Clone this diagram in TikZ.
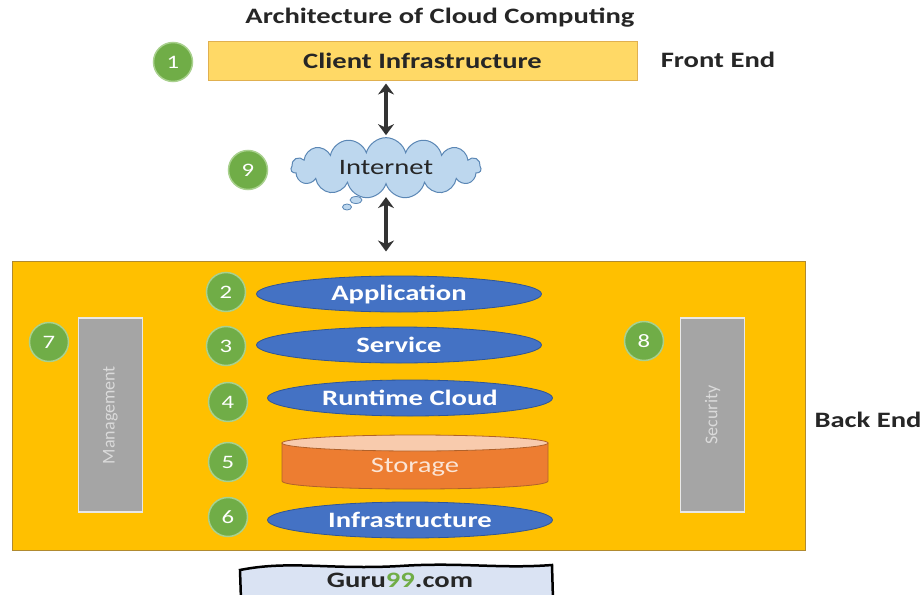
\documentclass[tikz,border=0pt]{standalone}
\usepackage{fontspec}
\setmainfont{Carlito}[FakeStretch=1.3]
\newfontfamily\barfont{Carlito}
\usetikzlibrary{shapes.geometric,shapes.symbols,arrows.meta}
\definecolor{clientfill}{HTML}{FFD966}
\definecolor{clientdraw}{HTML}{E0B050}
\definecolor{backfill}{HTML}{FFC000}
\definecolor{backdraw}{HTML}{B08A30}
\definecolor{numgreen}{HTML}{70AD47}
\definecolor{numedge}{HTML}{A9D18E}
\definecolor{ellblue}{HTML}{4472C4}
\definecolor{elledge}{HTML}{2F5597}
\definecolor{bargrey}{HTML}{A5A5A5}
\definecolor{baredge}{HTML}{E8E8E8}
\definecolor{bartext}{HTML}{DADADA}
\definecolor{storbody}{HTML}{ED7D31}
\definecolor{stortop}{HTML}{F8CBAD}
\definecolor{storedge}{HTML}{B0612A}
\definecolor{stortext}{HTML}{FBE5D6}
\definecolor{cloudfill}{HTML}{BDD7EE}
\definecolor{cloudedge}{HTML}{5B87B5}
\definecolor{gurufill}{HTML}{DAE3F3}
\definecolor{guru99}{HTML}{70AD47}
\definecolor{arrowgrey}{HTML}{333333}
\definecolor{txt}{HTML}{262626}
\tikzset{
  numdot/.style={circle, fill=numgreen, draw=numedge, line width=1.5pt, minimum size=39pt, inner sep=0pt, text=white, font=\fontsize{19}{22}\selectfont},
  blueell/.style={ellipse, fill=ellblue, draw=elledge, line width=0.8pt, minimum width=285pt, minimum height=36pt, inner sep=0pt, text=white, font=\bfseries\fontsize{22}{26}\selectfont},
  greybar/.style={rectangle, fill=bargrey, draw=baredge, line width=1.5pt, rotate=90, minimum width=194pt, minimum height=64pt, inner sep=0pt, text=bartext, font=\barfont\fontsize{18}{21}\selectfont},
  lbl/.style={text=txt, font=\bfseries\fontsize{22}{26}\selectfont},
  dblarrow/.style={{Stealth[length=11pt,width=16pt]}-{Stealth[length=11pt,width=16pt]}, line width=3.5pt, draw=arrowgrey},
}
\begin{document}
\begin{tikzpicture}[x=1pt,y=-1pt]
\useasboundingbox (0,0) rectangle (923,594);
\fill[white] (0,0) rectangle (923,594);

\node[lbl] (title) at (440,18) {Architecture of Cloud Computing};

\node[rectangle, fill=clientfill, draw=clientdraw, line width=1pt, minimum width=429pt, minimum height=38pt, inner sep=0pt, lbl] (client) at (422.5,61) {Client Infrastructure};
\node[numdot] (n1) at (173,62) {1};
\node[lbl] (front) at (718,60) {Front End};

% cloud with thought-bubble tail
\node[cloud, cloud puffs=15, aspect=3.3, fill=cloudfill, draw=cloudedge, line width=1pt, minimum width=190pt, minimum height=56pt, inner sep=0pt, text=txt, font=\fontsize{22}{26}\selectfont] (inet) at (386,168) {Internet};
\node[ellipse, fill=cloudfill, draw=cloudedge, line width=0.8pt, minimum width=12pt, minimum height=7pt, inner sep=0pt] (puffa) at (356,200) {};
\node[ellipse, fill=cloudfill, draw=cloudedge, line width=0.8pt, minimum width=9pt, minimum height=6pt, inner sep=0pt] (puffb) at (347,207) {};
\node[numdot] (n9) at (248,170) {9};

% back end
\node[rectangle, fill=backfill, draw=backdraw, line width=1pt, minimum width=793pt, minimum height=289pt, inner sep=0pt] (back) at (408.5,405.5) {};
\node[lbl] (backlbl) at (868,420) {Back End};

\draw[dblarrow, shorten <=3pt, shorten >=2pt] (inet.north |- client.south) -- (inet.north);
\draw[dblarrow, shorten <=12pt, shorten >=9pt] (inet.south) -- (inet.south |- back.north);

\node[blueell] (app) at (399,294) {Application};
\node[blueell] (svc) at (399,345) {Service};
\node[blueell] (rt) at (410,398) {Runtime Cloud};
\node[blueell] (infra) at (410,520) {Infrastructure};

% storage cylinder
\filldraw[fill=storbody, draw=storedge, line width=0.8pt] (282,443) -- (282,481) .. controls (282,491.7) and (548,491.7) .. (548,481) -- (548,443) -- cycle;
\filldraw[fill=stortop, draw=storedge, line width=0.8pt] (415,443) ellipse [x radius=133pt, y radius=8pt];
\node[text=stortext, font=\fontsize{22}{26}\selectfont] (stor) at (415,467) {Storage};

\node[numdot] (n2) at (226,292) {2};
\node[numdot] (n3) at (226,346) {3};
\node[numdot] (n4) at (228,402) {4};
\node[numdot] (n5) at (228,462) {5};
\node[numdot] (n6) at (228,517) {6};

\node[greybar] (mgmt) at (110.5,415) {Management};
\node[greybar] (sec) at (712.5,415) {Security};
\node[numdot] (n7) at (49,342) {7};
\node[numdot] (n8) at (644,341) {8};

% Guru99 banner
\filldraw[fill=gurufill, draw=black, line width=2.5pt] (241,600) -- (240,570) .. controls (290,560) and (330,570) .. (400,566) .. controls (460,562) and (500,569) .. (552,565) -- (553,600);
\node[font=\bfseries\fontsize{22}{26}\selectfont, text=txt] (guru) at (400,580) {Guru\textcolor{guru99}{99}.com};
\end{tikzpicture}
\end{document}
